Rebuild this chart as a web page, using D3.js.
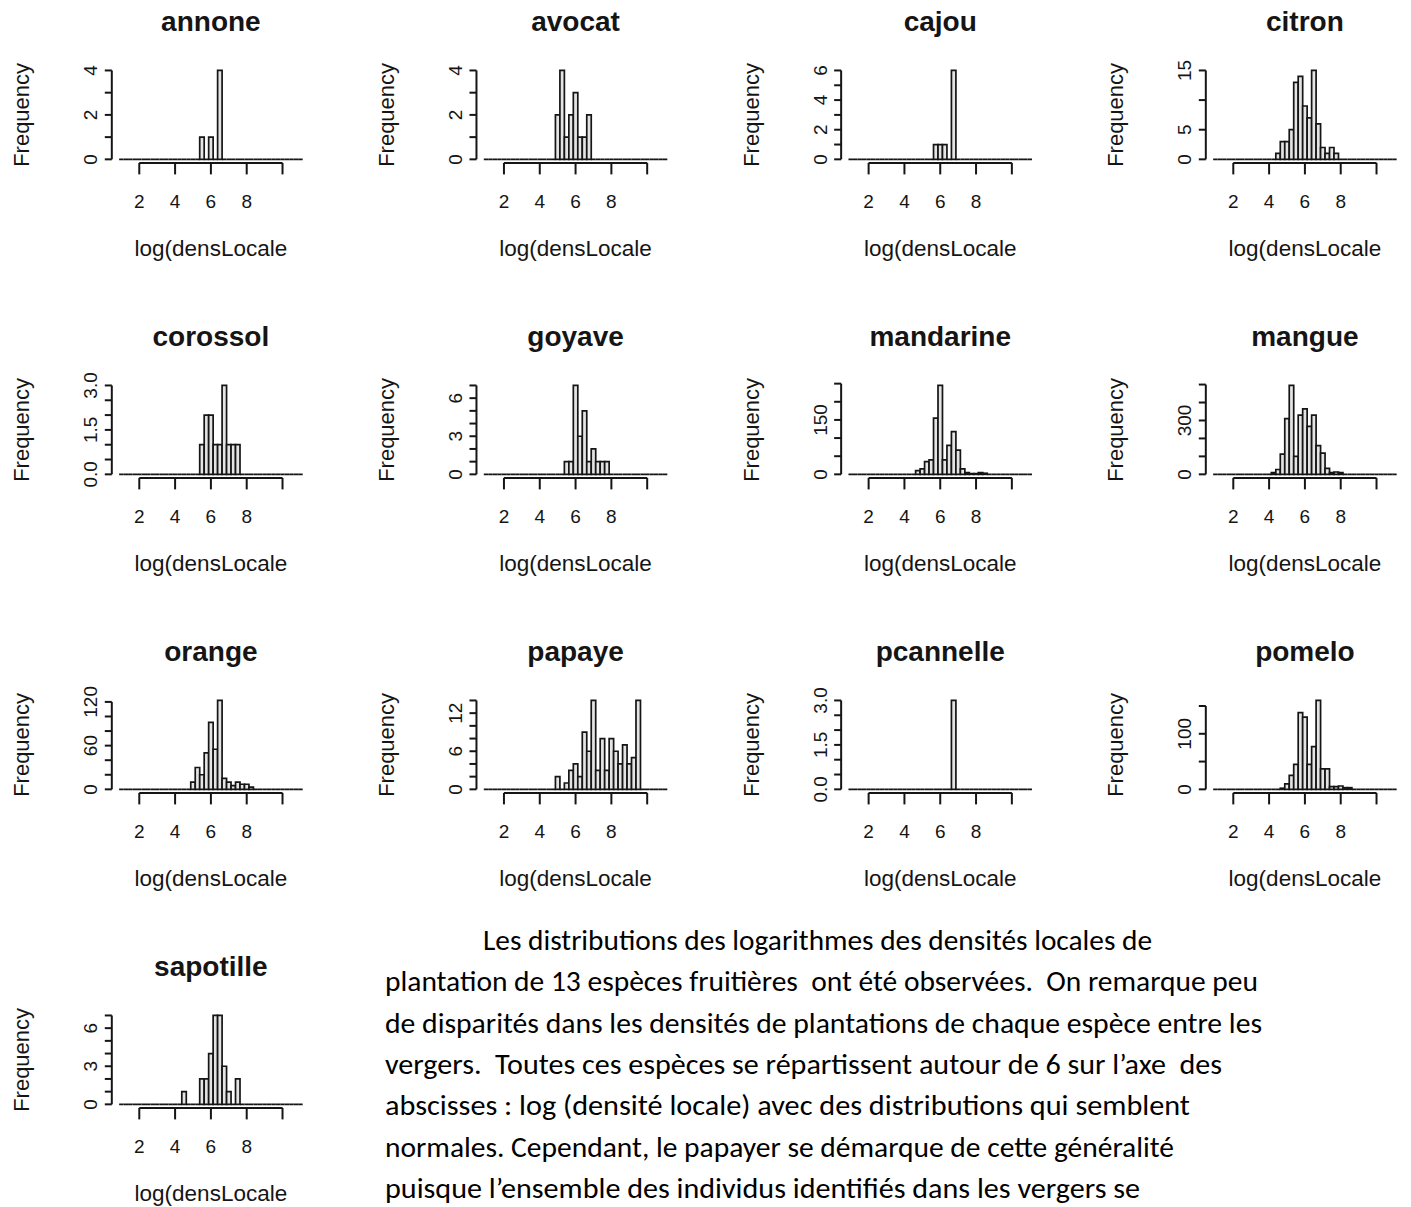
<!DOCTYPE html>
<html>
<head>
<meta charset="utf-8">
<script src="https://cdn.jsdelivr.net/npm/d3@7"></script>
<style>
  html, body { margin: 0; padding: 0; background: #fff; }
  svg { display: block; }
  .para { white-space: pre; }
</style>
</head>
<body>
<svg id="chart" width="1411" height="1207"></svg>
<script>
// ---- Data: histograms of log(local planting density) per fruit species ----
const BIN_WIDTH = 0.25;
const BREAK_MIN = 0.875;
const BREAK_MAX = 11.125;

const species = ["annone", "avocat", "cajou", "citron",
                 "corossol", "goyave", "mandarine", "mangue",
                 "orange", "papaye", "pcannelle", "pomelo",
                 "sapotille"];

// left edge of the first listed bin, per species
const firstEdge = [5.375, 4.875, 5.625, 4.375,
                   5.375, 5.375, 4.625, 4.125,
                   4.875, 4.875, 6.625, 4.625,
                   4.375];

// counts per consecutive bin, starting at firstEdge
const annone    = [1, 0, 1, 0, 4];
const avocat    = [2, 4, 1, 2, 3, 1, 1, 2];
const cajou     = [1, 1, 1, 0, 6];
const citron    = [1, 3, 3, 5, 13, 14, 9, 7, 15, 6, 2, 1, 2, 1];
const corossol  = [1, 2, 2, 1, 1, 3, 1, 1, 1];
const goyave    = [1, 1, 7, 3, 5, 1, 2, 1, 1, 1];
const mandarine = [10, 15, 35, 40, 155, 245, 40, 80, 118, 67, 15, 5, 2, 2, 5, 3];
const mangue    = [10, 27, 113, 310, 495, 100, 330, 365, 267, 330, 160, 118, 33, 10, 13, 10];
const orange    = [10, 30, 20, 50, 92, 55, 122, 15, 10, 5, 10, 7, 7, 3];
const papaye    = [2, 0, 1, 3, 4, 2, 9, 6, 14, 3, 8, 3, 8, 6, 4, 7, 4, 5, 14];
const pcannelle = [3];
const pomelo    = [2, 10, 25, 45, 138, 130, 45, 77, 160, 37, 37, 5, 5, 6, 3, 3];
const sapotille = [1, 0, 0, 0, 2, 2, 4, 7, 7, 3, 1, 0, 2];

const counts = [annone, avocat, cajou, citron, corossol, goyave, mandarine,
                mangue, orange, papaye, pcannelle, pomelo, sapotille];

// y-axis tick step and which tick values carry a label
const yTickStep = [1, 1, 1, 5, 0.5, 1, 50, 100, 20, 2, 0.5, 50, 1];
const yLabels = [
  ["0", "2", "4"], ["0", "2", "4"], ["0", "2", "4", "6"], ["0", "5", "15"],
  ["0.0", "1.5", "3.0"], ["0", "3", "6"], ["0", "150"], ["0", "300"],
  ["0", "60", "120"], ["0", "6", "12"], ["0.0", "1.5", "3.0"], ["0", "100"],
  ["0", "3", "6"]
];

const xTicks = [2, 4, 6, 8, 10];
const xLabels = ["2", "4", "6", "8", ""];
const xTitle = "log(densLocale";
const yTitle = "Frequency";

const paragraph = [
  "Les distributions des logarithmes des densités locales de",
  "plantation de 13 espèces fruitières  ont été observées.  On remarque peu",
  "de disparités dans les densités de plantations de chaque espèce entre les",
  "vergers.  Toutes ces espèces se répartissent autour de 6 sur l’axe  des",
  "abscisses : log (densité locale) avec des distributions qui semblent",
  "normales. Cependant, le papayer se démarque de cette généralité",
  "puisque l’ensemble des individus identifiés dans les vergers se"
];

// ---- Layout ----
const COLS = 4;
const COL_STEP = 364.67;
const ROW_STEP = 315.0;
const PLOT_LEFT = 111.8;
const PLOT_W = 198.2;
const PLOT_BOTTOM = 162.9;
const PLOT_H = 96;
const INK = "#151515";
const FONT = "'Liberation Sans', Arial, sans-serif";

const svg = d3.select("#chart");
const nBins = Math.round((BREAK_MAX - BREAK_MIN) / BIN_WIDTH);
const pad = 0.04 * (BREAK_MAX - BREAK_MIN);

species.forEach((name, i) => {
  const col = i % COLS, row = Math.floor(i / COLS);
  const left = PLOT_LEFT + col * COL_STEP;
  const bottom = PLOT_BOTTOM + row * ROW_STEP;
  const data = counts[i];
  const m = d3.max(data);

  const x = d3.scaleLinear()
    .domain([BREAK_MIN - pad, BREAK_MAX + pad])
    .range([left, left + PLOT_W]);
  const y = d3.scaleLinear()
    .domain([-0.04 * m, 1.04 * m])
    .range([bottom, bottom - PLOT_H]);

  // full set of bins, empty ones drawn flat on zero
  const startIdx = Math.round((firstEdge[i] - BREAK_MIN) / BIN_WIDTH);
  const bins = d3.range(nBins).map(k => ({
    x0: BREAK_MIN + k * BIN_WIDTH,
    x1: BREAK_MIN + (k + 1) * BIN_WIDTH,
    n: (k >= startIdx && k < startIdx + data.length) ? data[k - startIdx] : 0
  }));

  const g = svg.append("g");

  g.selectAll("path.bar").data(bins).enter().append("path")
    .attr("class", "bar")
    .attr("d", b => {
      const p = d3.path();
      p.moveTo(x(b.x0), y(0));
      p.lineTo(x(b.x0), y(b.n));
      p.lineTo(x(b.x1), y(b.n));
      p.lineTo(x(b.x1), y(0));
      p.closePath();
      return p.toString();
    })
    .attr("fill", "#e4e4e4")
    .attr("stroke", INK)
    .attr("stroke-width", 1.7);

  // y axis
  const yTicks = [];
  for (let v = 0; v <= 1.04 * m + 1e-9; v += yTickStep[i]) yTicks.push(+v.toFixed(6));
  const axisX = x.range()[0];
  g.append("line")
    .attr("x1", axisX).attr("x2", axisX)
    .attr("y1", y(0)).attr("y2", y(yTicks[yTicks.length - 1]))
    .attr("stroke", INK).attr("stroke-width", 2);
  g.selectAll("line.yt").data(yTicks).enter().append("line")
    .attr("x1", axisX).attr("x2", axisX - 7)
    .attr("y1", d => y(d)).attr("y2", d => y(d))
    .attr("stroke", INK).attr("stroke-width", 2);
  const labelled = yLabels[i].map(Number);
  g.selectAll("text.yl").data(yTicks.filter(v => labelled.some(l => Math.abs(l - v) < 1e-9)))
    .enter().append("text")
    .attr("transform", d => `translate(${axisX - 21},${y(d)}) rotate(-90)`)
    .attr("text-anchor", "middle")
    .attr("dominant-baseline", "central")
    .attr("font-family", FONT).attr("font-size", 19).attr("fill", INK)
    .text(d => yLabels[i][labelled.findIndex(l => Math.abs(l - d) < 1e-9)]);

  // x axis
  const xAxisY = y.range()[0];
  g.append("line")
    .attr("x1", x(xTicks[0])).attr("x2", x(xTicks[xTicks.length - 1]))
    .attr("y1", xAxisY).attr("y2", xAxisY)
    .attr("stroke", INK).attr("stroke-width", 2);
  g.selectAll("line.xt").data(xTicks).enter().append("line")
    .attr("x1", d => x(d)).attr("x2", d => x(d))
    .attr("y1", xAxisY).attr("y2", xAxisY + 11.5)
    .attr("stroke", INK).attr("stroke-width", 2);
  g.selectAll("text.xl").data(xTicks).enter().append("text")
    .attr("x", d => x(d)).attr("y", xAxisY + 39)
    .attr("text-anchor", "middle").attr("dominant-baseline", "central")
    .attr("font-family", FONT).attr("font-size", 19).attr("fill", INK)
    .text((d, k) => xLabels[k]);

  const cx = (x.range()[0] + x.range()[1]) / 2;
  g.append("text")
    .attr("x", cx).attr("y", xAxisY + 86)
    .attr("text-anchor", "middle").attr("dominant-baseline", "central")
    .attr("font-family", FONT).attr("font-size", 22.5).attr("fill", INK)
    .text(xTitle);
  g.append("text")
    .attr("transform", `translate(${axisX - 90},${xAxisY - PLOT_H / 2}) rotate(-90)`)
    .attr("text-anchor", "middle").attr("dominant-baseline", "central")
    .attr("font-family", FONT).attr("font-size", 22).attr("fill", INK)
    .text(yTitle);
  g.append("text")
    .attr("x", cx).attr("y", xAxisY - 141)
    .attr("text-anchor", "middle").attr("dominant-baseline", "central")
    .attr("font-family", FONT).attr("font-size", 28).attr("font-weight", "bold")
    .attr("fill", INK)
    .text(name);
});

// ---- Commentary paragraph (first line indented) ----
const lineStarts = [483, 385, 385, 385, 385, 385, 385];
const lineEnds = [1152, 1258, 1262, 1222, 1190, 1174, 1140];
svg.append("g").selectAll("text").data(paragraph).enter().append("text")
  .attr("class", "para")
  .attr("x", (d, k) => lineStarts[k])
  .attr("y", (d, k) => 950 + k * 41.3)
  .attr("textLength", (d, k) => lineEnds[k] - lineStarts[k])
  .attr("lengthAdjust", "spacingAndGlyphs")
  .attr("font-family", "Carlito, Lato, 'Open Sans', sans-serif")
  .attr("font-size", 28)
  .attr("fill", "#000")
  .text(d => d);
</script>
</body>
</html>
